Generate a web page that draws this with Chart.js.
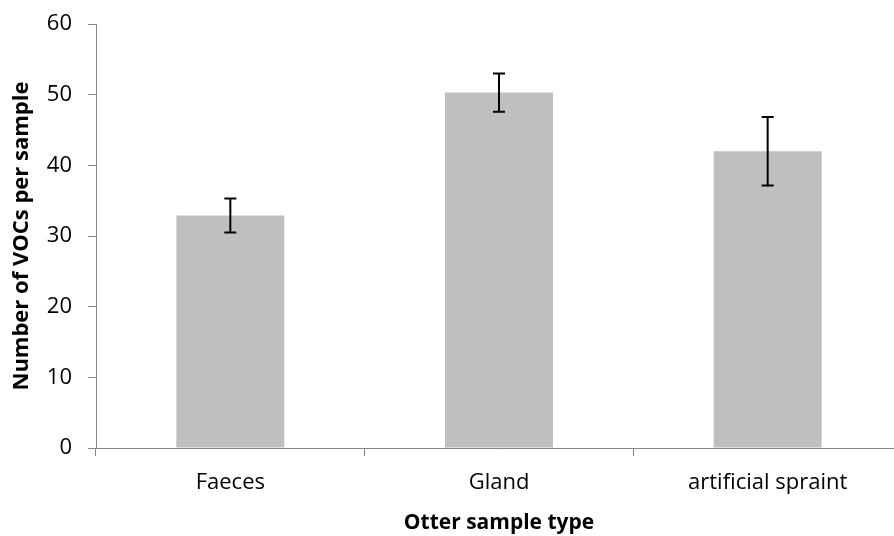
<!DOCTYPE html>
<html>
<head>
<meta charset="utf-8">
<script src="https://cdn.jsdelivr.net/npm/chart.js@4"></script>
<style>
  html, body { margin: 0; padding: 0; background: #fff; overflow: hidden; }
  #wrap { width: 904px; height: 536px; }
</style>
</head>
<body>
<div id="wrap"><canvas id="mycanvas" width="904" height="536"></canvas></div>
<script>
// mean number of VOCs per sample, with +/- error
var sampleTypes = ['Faeces', 'Gland', 'artificial spraint'];
var meanVOCs = [32.9, 50.3, 42.0];
var errVOCs = [2.4, 2.7, 4.85];
var yTicks = [0, 10, 20, 30, 40, 50, 60];

var axisGrey = '#868686';
var fontFam = '"Open Sans", "Liberation Sans", sans-serif';

// draws the error bars from the y scale
var errorBars = {
  id: 'errorBars',
  afterDatasetsDraw: function(chart) {
    var ctx = chart.ctx;
    var meta = chart.getDatasetMeta(0);
    var y = chart.scales.y;
    ctx.save();
    ctx.strokeStyle = '#000';
    ctx.lineWidth = 2;
    for (var i = 0; i < meta.data.length; i++) {
      var x = meta.data[i].x;
      var top = y.getPixelForValue(meanVOCs[i] + errVOCs[i]);
      var bot = y.getPixelForValue(meanVOCs[i] - errVOCs[i]);
      ctx.beginPath();
      ctx.moveTo(x, top); ctx.lineTo(x, bot);
      ctx.moveTo(x - 6, top); ctx.lineTo(x + 6, top);
      ctx.moveTo(x - 6, bot); ctx.lineTo(x + 6, bot);
      ctx.stroke();
    }
    ctx.restore();
  }
};

var chartdata = {
  labels: sampleTypes,
  datasets: [{
    label: 'Number of VOCs per sample',
    backgroundColor: '#bfbfbf',
    borderWidth: 0,
    barPercentage: 0.402,
    categoryPercentage: 1.0,
    data: meanVOCs
  }]
};

var ctx = document.getElementById('mycanvas');
var barGraph = new Chart(ctx, {
  type: 'bar',
  data: chartdata,
  plugins: [errorBars],
  options: {
    responsive: false,
    animation: false,
    layout: { padding: { top: 24, right: 2, left: 0, bottom: 0 } },
    plugins: { legend: { display: false }, tooltip: { enabled: false } },
    scales: {
      x: {
        grid: { drawOnChartArea: false, color: axisGrey, tickLength: 8, tickColor: axisGrey },
        border: { color: axisGrey, width: 1 },
        ticks: { color: '#000', font: { family: fontFam, size: 22 }, padding: 14 },
        title: {
          display: true, text: 'Otter sample type', color: '#000',
          font: { family: fontFam, size: 21, weight: 'bold' },
          padding: { top: 4, bottom: 0 }
        },
        afterFit: function(scale) {
          scale.height = 88;
          scale.paddingLeft = 0;
          scale.paddingRight = 0;
        }
      },
      y: {
        min: 0, max: 60,
        afterBuildTicks: function(scale) {
          scale.ticks = yTicks.map(function(v) { return { value: v }; });
        },
        grid: { drawOnChartArea: false, color: axisGrey, tickLength: 8, tickColor: axisGrey },
        border: { color: axisGrey, width: 1 },
        ticks: { color: '#000', font: { family: fontFam, size: 22 }, padding: 16 },
        title: {
          display: true, text: 'Number of VOCs per sample', color: '#000',
          font: { family: fontFam, size: 22, weight: 'bold' },
          padding: { top: 9, bottom: 0 }
        },
        afterFit: function(scale) {
          scale.width = 96;
          scale.paddingTop = 0;
          scale.paddingBottom = 0;
        }
      }
    }
  }
});
</script>
</body>
</html>
